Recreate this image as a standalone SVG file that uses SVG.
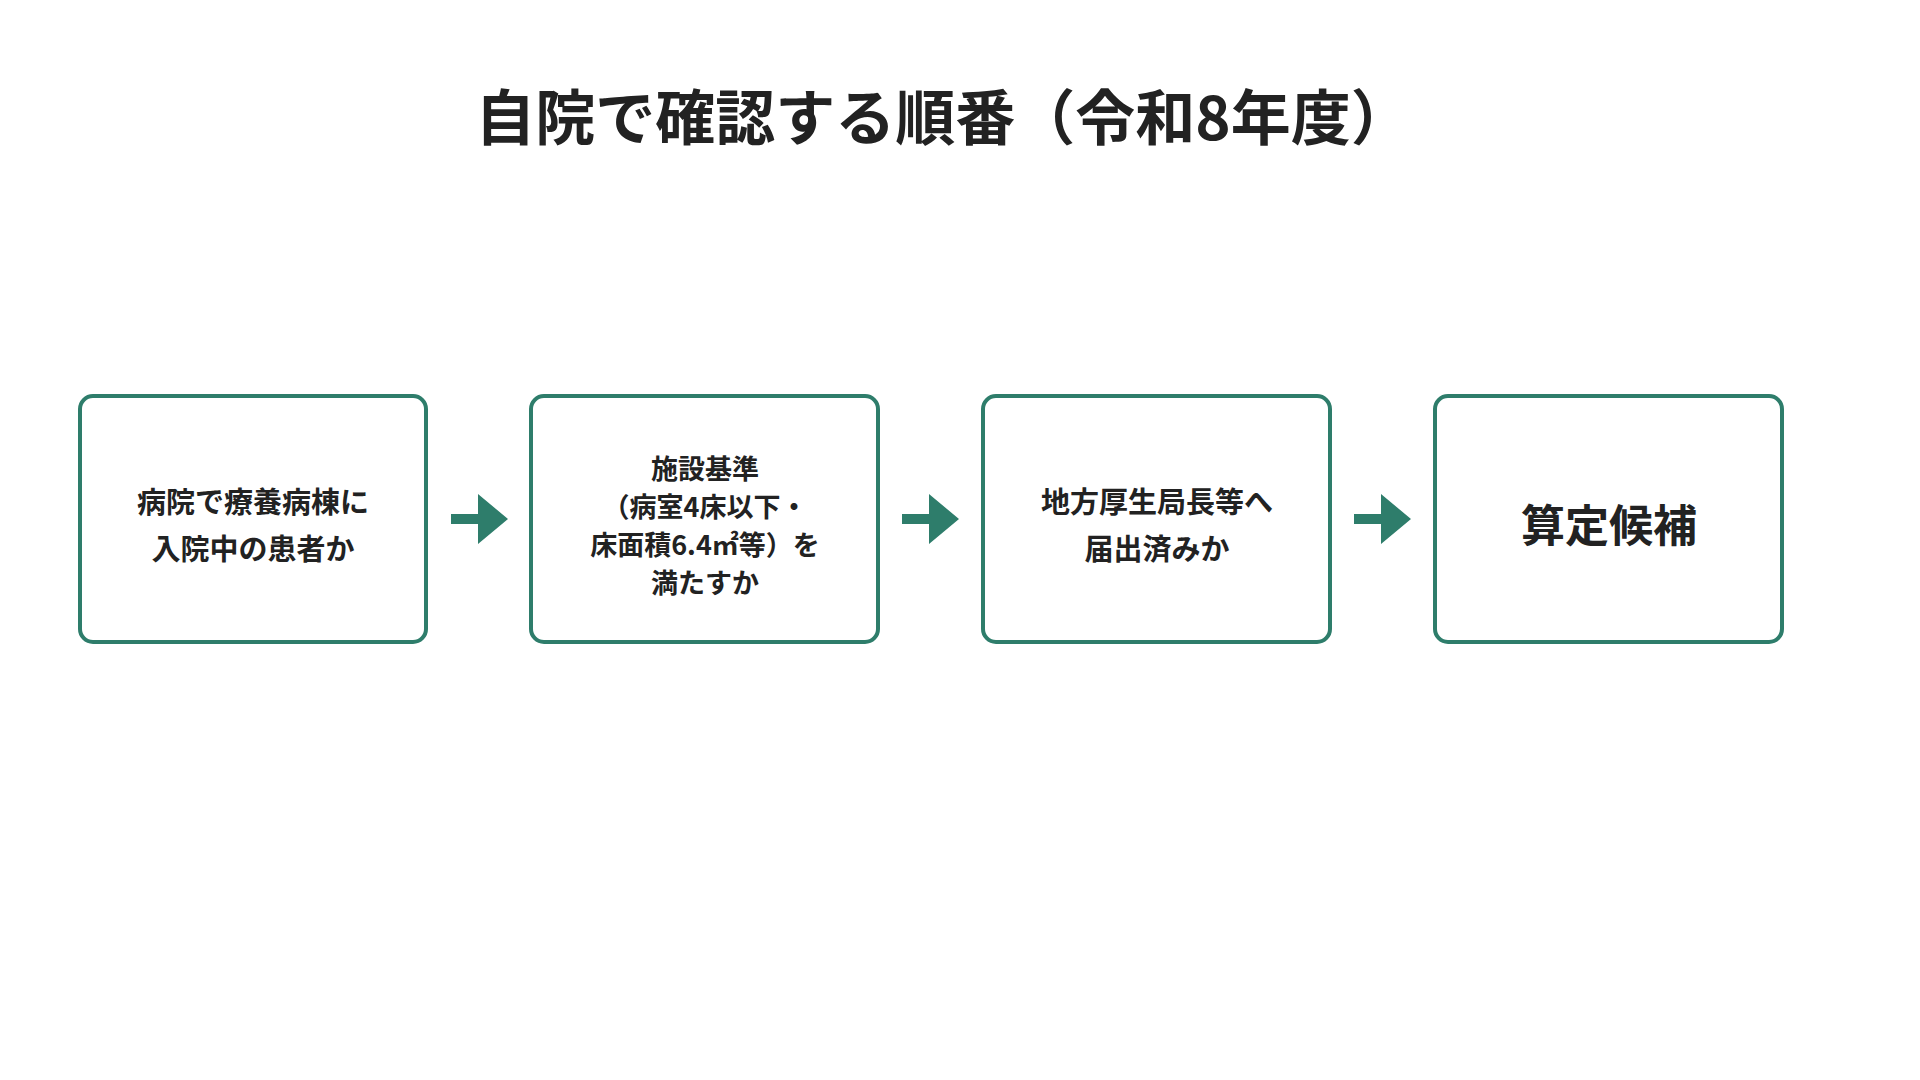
<svg xmlns="http://www.w3.org/2000/svg" width="1920" height="1080" viewBox="0 0 1920 1080">
<style>
text{font-family:"Noto Sans CJK JP","Noto Sans",sans-serif;fill:#222;text-anchor:middle;font-weight:700}
.box{fill:#fff;stroke:#2e7d6b;stroke-width:4}
.t{font-size:29px}
.s{font-size:27px}
.big{font-size:44px}
.arr{fill:#2e7d6b}
</style>
<rect width="1920" height="1080" fill="#fff"/>
<text x="943" y="140" font-size="60">自院で確認する順番（令和8年度）</text>
<g id="n1"><rect class="box" x="80" y="396" width="346" height="246" rx="13"/>
<text class="t" x="253" y="513">病院で療養病棟に</text><text class="t" x="253" y="560">入院中の患者か</text></g>
<g id="n2"><rect class="box" x="531" y="396" width="347" height="246" rx="13"/>
<text class="s" x="705" y="479">施設基準</text><text class="s" x="705" y="517">（病室4床以下・</text><text class="s" x="705" y="555">床面積6.4㎡等）を</text><text class="s" x="705" y="593">満たすか</text></g>
<g id="n3"><rect class="box" x="983" y="396" width="347" height="246" rx="13"/>
<text class="t" x="1157" y="513">地方厚生局長等へ</text><text class="t" x="1157" y="560">届出済みか</text></g>
<g id="n4"><rect class="box" x="1435" y="396" width="347" height="246" rx="13"/>
<text class="big" x="1609" y="542">算定候補</text></g>
<g id="connectors">
<path class="arr" d="M451 514h27v-20l30 25-30 25v-20h-27z"/>
<path class="arr" d="M902 514h27v-20l30 25-30 25v-20h-27z"/>
<path class="arr" d="M1354 514h27v-20l30 25-30 25v-20h-27z"/>
</g>
</svg>
